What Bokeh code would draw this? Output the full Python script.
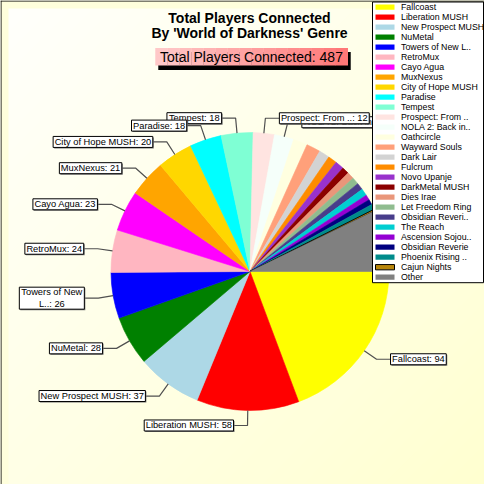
import math
from bokeh.plotting import figure
from bokeh.models import Range1d, ColumnDataSource
from bokeh.core.properties import value
from bokeh.embed import file_html
from bokeh.resources import INLINE

# ---------------- data ----------------
categories = ["Fallcoast", "Liberation MUSH", "New Prospect MUSH", "NuMetal",
              "Towers of New L..", "RetroMux", "Cayo Agua", "MuxNexus",
              "City of Hope MUSH", "Paradise", "Tempest", "Prospect: From ..",
              "NOLA 2: Back in..", "Oathcircle", "Wayward Souls", "Dark Lair",
              "Fulcrum", "Novo Upanje", "DarkMetal MUSH", "Dies Irae",
              "Let Freedom Ring", "Obsidian Reveri..", "The Reach",
              "Ascension Sojou..", "Obsidian Reverie", "Phoenix Rising ..",
              "Cajun Nights", "Other"]
players = [94, 58, 37, 28, 26, 24, 23, 21, 20, 18, 18, 12, 11, 8, 8, 6, 5, 5,
           4, 4, 4, 4, 4, 3, 3, 3, 1, 35]
colors = ["#FFFF00", "#FF0000", "#ADD8E6", "#008000", "#0000FF", "#FFB6C1",
          "#FF00FF", "#FFA500", "#FFD700", "#00FFFF", "#7FFFD4", "#FFE4E1",
          "#F5FFFA", "#FFFFE0", "#FFA07A", "#D3D3D3", "#FF8C00", "#9932CC",
          "#8B0000", "#E9967A", "#8FBC8F", "#483D8B", "#00CED1", "#9400D3",
          "#000080", "#008B8B", "#B8860B", "#808080"]
title_lines = ["Total Players Connected", "By 'World of Darkness' Genre"]
subtitle_prefix = "Total Players Connected: "
label_min = 10

# ---------------- layout (reference pixel coords, y down) ----------------
SIZE = 484
CX, CY, R = 249.5, 271.0, 139.0
LBL_FS = 9.3
LEG_FS = 8.8
FONT = value("Liberation Sans")

def Y(v):
    return SIZE - v

AW = {' ': 278, ':': 278, '.': 278, "'": 191, '0': 556, '1': 556, '2': 556, '3': 556,
      '4': 556, '5': 556, '6': 556, '7': 556, '8': 556, '9': 556,
      'A': 667, 'B': 667, 'C': 722, 'D': 722, 'E': 667, 'F': 611, 'G': 778, 'H': 722,
      'I': 278, 'J': 500, 'K': 667, 'L': 556, 'M': 833, 'N': 722, 'O': 778, 'P': 667,
      'Q': 778, 'R': 722, 'S': 667, 'T': 611, 'U': 722, 'V': 667, 'W': 944, 'X': 667,
      'Y': 667, 'Z': 611, 'a': 556, 'b': 556, 'c': 500, 'd': 556, 'e': 556, 'f': 278,
      'g': 556, 'h': 556, 'i': 222, 'j': 222, 'k': 500, 'l': 222, 'm': 833, 'n': 556,
      'o': 556, 'p': 556, 'q': 556, 'r': 333, 's': 500, 't': 278, 'u': 556, 'v': 500,
      'w': 722, 'x': 500, 'y': 500, 'z': 500}

def tw(s, size):
    return sum(AW.get(c, 556) for c in s) * size / 1000.0

total = sum(players)

p = figure(width=SIZE, height=SIZE, x_range=Range1d(0, SIZE), y_range=Range1d(0, SIZE),
           output_backend="svg", toolbar_location=None, min_border=0)
p.axis.visible = False
p.grid.visible = False
p.outline_line_color = None
p.background_fill_color = "#FFFFE8"
p.border_fill_color = "#FFFFE8"

# ---------------- background: diagonal gradient + frame ----------------
N = 48
diag = SIZE * math.sqrt(2)
for k in range(N):
    t = (k + 0.5) / N
    b = int(round(252 - 44 * t))
    p.rect(x=t * SIZE, y=SIZE - t * SIZE, width=1200, height=diag / N + 1.0,
           angle=math.pi / 4, fill_color=f"#FFFF{b:02X}", line_color=None)
p.quad(left=0, right=8, top=SIZE, bottom=0, fill_color="#FFFFDC", line_color=None)
p.quad(left=0, right=SIZE, top=SIZE, bottom=SIZE - 8, fill_color="#FFFFDC", line_color=None)
p.line(x=[0.5, 0.5], y=[0, SIZE], line_color="#000000", line_width=1)
p.line(x=[0, SIZE], y=[SIZE - 0.5, SIZE - 0.5], line_color="#000000", line_width=1)

# ---------------- pie ----------------
starts, ends, mids = [], [], []
cum = 0
for v in players:
    a0 = -2 * math.pi * cum / total
    cum += v
    a1 = -2 * math.pi * cum / total
    starts.append(a0)
    ends.append(a1)
    mids.append((a0 + a1) / 2)

line_cols = ["#000000" if c == "Cajun Nights" else col for c, col in zip(categories, colors)]
line_w = [1.0 if c == "Cajun Nights" else 0.6 for c in categories]
src = ColumnDataSource(dict(start=starts, end=ends, fill=colors, lc=line_cols, lw=line_w))
p.wedge(x=CX, y=Y(CY), radius=R, start_angle="start", end_angle="end",
        direction="clock", fill_color="fill", line_color="lc", line_width="lw", source=src)

# ---------------- labels ----------------
labels = []
for i, (name, v) in enumerate(zip(categories, players)):
    if v < label_min or name == "Other":
        continue
    th = mids[i]
    ex, ey = CX + R * math.cos(th), Y(CY) + R * math.sin(th)
    bx, by = CX + (R + 15) * math.cos(th), Y(CY) + (R + 15) * math.sin(th)
    right = math.cos(th) >= 0
    text = f"{name}: {v}"
    w = tw(text, LBL_FS) + 3
    if not right and bx - 14 - w < 10:
        k = name.rfind(" ")
        text = name[:k] + "\n" + name[k + 1:] + f": {v}"
    lines = text.split("\n")
    w = max(tw(l, LBL_FS) for l in lines) + 3
    h = 11 * len(lines)
    if right:
        x0, x1 = bx + 14, bx + 14 + w
        hx = x0
    else:
        x0, x1 = bx - 14 - w, bx - 14
        hx = x1
    labels.append(dict(text=text, ex=ex, ey=ey, bx=bx, by=by, hx=hx,
                       x0=x0, x1=x1, top=by + h / 2, bottom=by - h / 2))

p.multi_line(xs=[[l["ex"], l["bx"], l["hx"]] for l in labels],
             ys=[[l["ey"], l["by"], l["by"]] for l in labels],
             line_color="#505050", line_width=1.2)

for l in reversed(labels):
    p.quad(left=l["x0"] + 1, right=l["x1"] + 1, top=l["top"] - 1, bottom=l["bottom"] - 1,
           fill_color="#777777", line_color=None)
    p.quad(left=l["x0"], right=l["x1"], top=l["top"], bottom=l["bottom"],
           fill_color="#FFFFFF", line_color="#000000", line_width=1)
    p.text(x=(l["x0"] + l["x1"]) / 2, y=l["by"], text=[l["text"]],
           text_font=FONT, text_font_size=f"{LBL_FS}px", text_color="#000000",
           text_align="center", text_baseline="middle", text_line_height=1.18)

# ---------------- titles ----------------
p.text(x=[249, 249], y=[Y(17), Y(32.5)], text=title_lines, text_font=FONT,
       text_font_size="14px", text_font_style="bold", text_color="#000000",
       text_align="center", text_baseline="middle")

sub = subtitle_prefix + str(total)
sw = tw(sub, 14) + 8
sx0 = 251 - sw / 2
p.quad(left=sx0 + 3, right=sx0 + sw + 3, top=Y(51.5), bottom=Y(69.5),
       fill_color="#000000", line_color=None)
steps = 16
for k in range(steps):
    t = k / (steps - 1)
    gg = int(round(200 - 80 * t))
    p.quad(left=sx0 + sw * k / steps, right=sx0 + sw * (k + 1) / steps + 0.3,
           top=Y(47.5), bottom=Y(65), fill_color=f"#FF{gg:02X}{gg:02X}", line_color=None)
p.text(x=[251], y=[Y(56.5)], text=[sub], text_font=FONT, text_font_size="14px",
       text_color="#000000", text_align="center", text_baseline="middle")

# ---------------- legend ----------------
n = len(categories)
top_row, pitch = 6.7, 10.0
leg_left = 372
p.quad(left=leg_left, right=SIZE - 1, top=Y(1.5), bottom=Y(top_row + (n - 1) * pitch + 5.5),
       fill_color="#FFFFFF", line_color="#000000", line_width=1)
ly = [Y(top_row + i * pitch) for i in range(n)]
leg_line = ["#000000" if c == "Cajun Nights" else col for c, col in zip(categories, colors)]
leg_lw = [1.0 if c == "Cajun Nights" else 0.0 for c in categories]
lsrc = ColumnDataSource(dict(y=ly, fill=colors, lc=leg_line, lw=leg_lw, name=categories))
p.rect(x=leg_left + 12.5, y="y", width=19, height=5.3, fill_color="fill", line_color="lc",
       line_width="lw", source=lsrc)
p.text(x=leg_left + 28.5, y="y", text="name", text_font=FONT, text_font_size=f"{LEG_FS}px",
       text_color="#000000", text_align="left", text_baseline="middle", source=lsrc)

open("out.html", "w").write(file_html(p, INLINE))
